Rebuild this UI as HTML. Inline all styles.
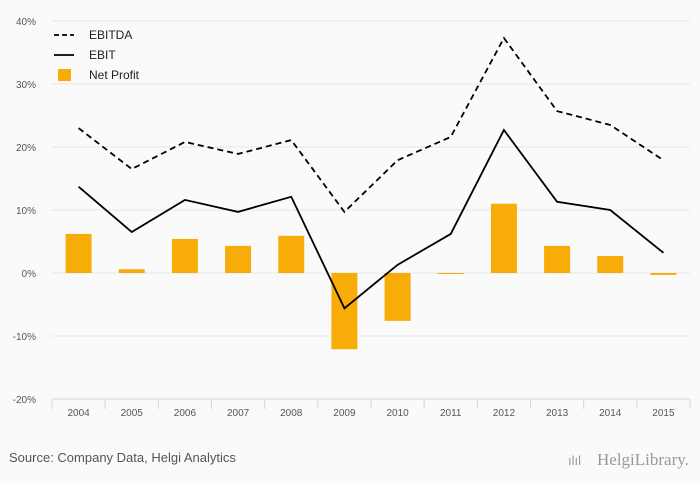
<!DOCTYPE html>
<html><head><meta charset="utf-8"><style>
body{margin:0;background:#fafafa;font-family:"Liberation Sans",sans-serif;}
svg{display:block}
</style></head><body>
<svg id="c" width="700" height="483">
<rect width="700" height="483" fill="#fafafa"/>
<g id="grid"></g><g id="bars"></g><g id="lines"></g><g id="axes"></g>
<g font-size="12" fill="#222">
<line x1="54" y1="35" x2="74" y2="35" stroke="#000" stroke-width="1.8" stroke-dasharray="5,3"/>
<text x="89" y="39">EBITDA</text>
<line x1="54" y1="55" x2="74" y2="55" stroke="#000" stroke-width="1.8"/>
<text x="89" y="59">EBIT</text>
<rect x="58" y="69" width="13" height="12" fill="#f7ac08"/>
<text x="89" y="79">Net Profit</text>
</g>
<text x="9" y="462" font-size="13" fill="#555">Source: Company Data, Helgi Analytics</text>
<text x="597" y="465" font-size="17" fill="#999" font-family="Liberation Serif,serif">HelgiLibrary.</text>
<text x="568" y="465" font-size="13" fill="#999">ılıl</text>
</svg>
<script>
const years=["2004","2005","2006","2007","2008","2009","2010","2011","2012","2013","2014","2015"];
const ebitda=[23.0,16.5,20.8,18.9,21.1,9.7,17.9,21.6,37.3,25.7,23.5,17.9];
const ebit=[13.7,6.5,11.6,9.7,12.1,-5.6,1.3,6.2,22.7,11.3,10.0,3.2];
const netProfit=[6.2,0.6,5.4,4.3,5.9,-12.1,-7.6,-0.1,11.0,4.3,2.7,-0.3];
const yTicks=[40,30,20,10,0,-10,-20];
const NS="http://www.w3.org/2000/svg";
const x0=52,x1=690,yTop=21,yBot=399;
const bw=(x1-x0)/years.length;
const xc=i=>x0+bw*(i+0.5);
const y=v=>yTop+(40-v)/60*(yBot-yTop);
function mk(tag,attrs,parent){const e=document.createElementNS(NS,tag);for(const k in attrs)e.setAttribute(k,attrs[k]);document.getElementById(parent).appendChild(e);return e;}
yTicks.forEach(t=>{
 if(t>-20){const l=mk("line",{x1:x0,x2:x1,y1:y(t),y2:y(t),stroke:"#e6e6e6"},"grid");
 
 }
 const tx=mk("text",{x:36,y:y(t)+4,"font-size":"10","fill":"#555","text-anchor":"end"},"axes");tx.textContent=t+"%";
 
 
});
const ax=mk("line",{x1:x0,x2:x1,y1:yBot,y2:yBot,stroke:"#ccd6eb"},"axes");


for(let i=0;i<=years.length;i++){const tk=mk("line",{x1:x0+bw*i,x2:x0+bw*i,y1:yBot,y2:yBot+10,stroke:"#ccd6eb"},"axes");
 
 }
years.forEach((yr,i)=>{
 const t=mk("text",{x:xc(i),y:416,"font-size":"10","fill":"#555","text-anchor":"middle"},"axes");t.textContent=yr;
 
 
 const v=netProfit[i];const top=Math.min(y(v),y(0));const h=Math.max(Math.abs(y(v)-y(0)),1);
 const b=mk("rect",{x:xc(i)-13,y:top,width:26,height:h,fill:"#f7ac08"},"bars");
 
 
});
const p1=mk("path",{d:ebitda.map((v,i)=>(i?"L":"M")+xc(i)+","+y(v)).join(""),fill:"none",stroke:"#000","stroke-width":"1.8","stroke-dasharray":"6,4"},"lines");


const p2=mk("path",{d:ebit.map((v,i)=>(i?"L":"M")+xc(i)+","+y(v)).join(""),fill:"none",stroke:"#000","stroke-width":"1.8"},"lines");


</script>
</body></html>
